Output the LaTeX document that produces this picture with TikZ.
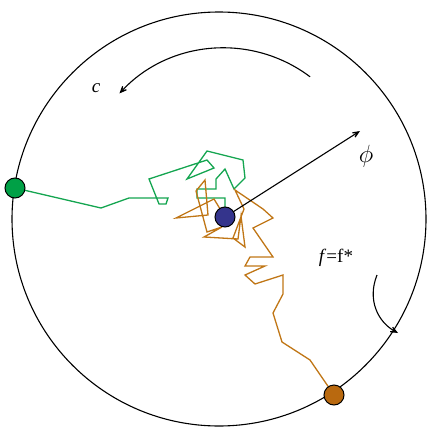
\documentclass[tikz,border=0pt]{standalone}
\usepackage{fontspec}
\setmainfont{Liberation Serif}
\usetikzlibrary{arrows.meta}
\definecolor{walkgreen}{RGB}{20,165,80}
\definecolor{walkbrown}{RGB}{192,118,22}
\definecolor{dotblue}{RGB}{52,52,140}
\definecolor{dotgreen}{RGB}{0,160,70}
\definecolor{dotbrown}{RGB}{185,105,15}
\tikzset{
  dot/.style={circle,draw=black,line width=1pt,minimum size=20pt,inner sep=0pt},
  walk/.style={line width=1.3pt,line join=miter},
  barb/.style={-{Stealth[length=13pt,width=11pt,inset=8.5pt]}},
  lbl/.style={font=\fontsize{19}{22}\selectfont,inner sep=0pt}
}
\begin{document}
\begin{tikzpicture}[x=1pt,y=-1pt]
\useasboundingbox (0,0) rectangle (431,431);
\coordinate (O) at (219,219);
\coordinate (G) at (15,188);
\coordinate (B) at (225,217);
\coordinate (R) at (334,395);
\coordinate (phitip) at (360,131);
\coordinate (arcc) at (224,191);
\coordinate (rs) at (377,275);
\coordinate (re) at (398,333);
% outer circle
\draw[line width=1.1pt] (O) circle[radius=207];
% green walk
\draw[walk,walkgreen] (G) -- (101,208) -- (129,198) -- (168,198) -- (166,204) -- (159,204) -- (149,179) -- (207,160) -- (214,168) -- (187,179) -- (207,151) -- (243,160) -- (245,178) -- (234,189) -- (225,169) -- (216,179) -- (216,189) -- (197,189) -- (197,198) -- (225,198) -- (B);
% brown walk
\draw[walk,walkbrown] (B) -- (214,199) -- (176,218) -- (208,215) -- (205,180) -- (196,191) -- (207,232) -- (222,227) -- (204,237) -- (238,239) -- (241,216) -- (245,247) -- (233,238) -- (244,209) -- (235,190) -- (263,209) -- (273,218) -- (253,228) -- (273,257) -- (250,257) -- (245,266) -- (265,266) -- (245,275) -- (255,284) -- (283,275) -- (283,294) -- (273,313) -- (282,342) -- (310,360) -- (R);
% phi arrow
\draw[line width=1.1pt,barb] (B) -- (phitip);
% c arc
\draw[line width=1.1pt,barb] (arcc) ++(-53:143) arc[start angle=-53,end angle=-137,radius=143];
% f arc
\draw[line width=1.1pt,barb] (rs) .. controls (367,300) and (378,322) .. (re);
% dots
\node[dot,fill=dotgreen] (g) at (G) {};
\node[dot,fill=dotblue] (b) at (B) {};
\node[dot,fill=dotbrown] (r) at (R) {};
% labels
\node[lbl] (lc) at (96,88) {\textit{c}};
\node[lbl] (lphi) at (366,156) {\fontsize{24}{26}\selectfont$\phi$};
\node[lbl] (lf) at (336,258) {\textit{f}=f*};
\end{tikzpicture}
\end{document}
